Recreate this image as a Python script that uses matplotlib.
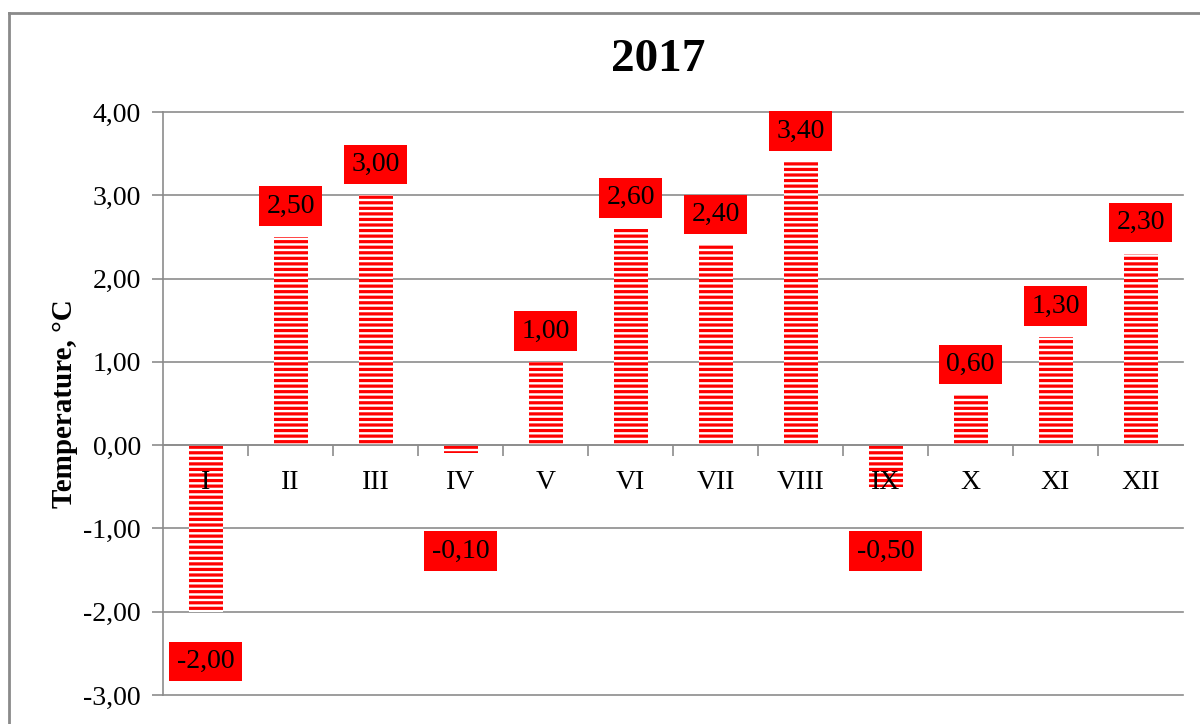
import matplotlib
matplotlib.use("Agg")
import matplotlib.pyplot as plt
import numpy as np

months = ["I", "II", "III", "IV", "V", "VI", "VII", "VIII", "IX", "X", "XI", "XII"]
values = [-2.00, 2.50, 3.00, -0.10, 1.00, 2.60, 2.40, 3.40, -0.50, 0.60, 1.30, 2.30]
title = "2017"
ylabel = "Temperature, °C"
yticks = [-3, -2, -1, 0, 1, 2, 3, 4]

plt.rcParams['font.family'] = ['Liberation Serif', 'DejaVu Serif']
plt.rcParams['hatch.linewidth'] = 2.3

W, H = 1200, 724
fig = plt.figure(figsize=(12, 7.24), dpi=100)
fig.patch.set_facecolor('white')

# outer chart border (only top and left visible)
fig.add_artist(plt.Line2D([9/W, 1.0], [1 - 13/H, 1 - 13/H], color='#8a8a8a', lw=2, transform=fig.transFigure))
fig.add_artist(plt.Line2D([9/W, 9/W], [0, 1 - 13/H], color='#8a8a8a', lw=2, transform=fig.transFigure))

ax = fig.add_axes([163/W, 29/H, (1183-163)/W, (695-112)/H])
x = np.arange(len(months))
ax.set_xlim(-0.5, len(months) - 0.5)
ax.set_ylim(-3, 4)

for yv in yticks:
    ax.axhline(yv, color='#8c8c8c', lw=1.2, zorder=0, clip_on=False)

ax.bar(x, values, width=0.4, facecolor='white', edgecolor='#ff0000',
       hatch='---', linewidth=0, zorder=2)

for xi, v in zip(x, values):
    if v >= 0:
        ly = v + 0.37
    else:
        ly = min(v - 0.6, -1.27)
    ax.text(xi, ly, f"{v:.2f}".replace('.', ','), ha='center', va='center',
            fontsize=20, color='black', zorder=5,
            bbox=dict(boxstyle='square,pad=0.26', facecolor='#ff0000', edgecolor='none'))

# spines
for s in ['top', 'right']:
    ax.spines[s].set_visible(False)
ax.spines['left'].set_color('#8c8c8c')
ax.spines['left'].set_linewidth(1.2)
ax.spines['bottom'].set_position(('data', 0))
ax.spines['bottom'].set_color('#8c8c8c')
ax.spines['bottom'].set_linewidth(1.2)
ax.spines['bottom'].set_zorder(3)
ax.xaxis.set_zorder(4)

ax.set_yticks(yticks)
ax.set_yticklabels([f"{t:.2f}".replace('.', ',') for t in yticks], fontsize=20)
ax.tick_params(axis='y', direction='out', length=8, width=1.2, color='#8c8c8c', pad=8)

ax.set_xticks(x)
ax.set_xticklabels(months, fontsize=20)
ax.tick_params(axis='x', which='major', length=0, pad=18)
ax.set_xticks(np.arange(0.5, len(months) - 0.5, 1), minor=True)
ax.tick_params(axis='x', which='minor', direction='out', length=8, width=1.2, color='#8c8c8c')

ax.set_ylabel(ylabel, fontsize=21, fontweight='bold')
ax.yaxis.set_label_coords(-0.083, 0.5)

fig.text(658 / W, 1 - 60/H, title, ha='center', va='center',
         fontsize=34, fontweight='bold')

fig.savefig("out.png", dpi=100)
